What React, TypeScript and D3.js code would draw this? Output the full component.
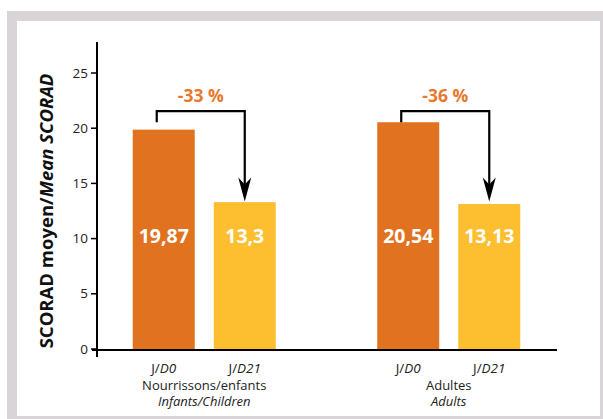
import React from "react";
import * as d3 from "d3";

// Mean SCORAD at day 0 and day 21, per population
const groups = ["Nourrissons/enfants", "Adultes"];
const groupsEn = ["Infants/Children", "Adults"];
const timepoints = ["D0", "D21"];
const d0Values = [19.87, 20.54];
const d21Values = [13.3, 13.13];
const valueLabels = [["19,87", "13,3"], ["20,54", "13,13"]];
const changeLabels = ["-33 %", "-36 %"];
const yTicks = [0, 5, 10, 15, 20, 25];

const W = 603;
const H = 419;
const ORANGE = "#e07220";
const YELLOW = "#fdbe30";
const LABEL_ORANGE = "#e8782c";
const FONT = "'Open Sans', 'DejaVu Sans', sans-serif";

export default function App() {
  const y = d3.scaleLinear().domain([0, 25]).range([349, 73]);
  const xGroup = d3.scaleBand<string>().domain(groups).range([82, 571]);
  const xInner = d3
    .scaleBand<string>()
    .domain(timepoints)
    .range([-71.5, 71.5])
    .paddingInner(0.235);
  const bw = xInner.bandwidth();
  const axisX = 97;
  const axisY = y(0) + 1;
  const bracketY = y(21.55);
  const stubY = y(20.55);
  const tipY = y(13.35);

  return (
    <svg
      width={W}
      height={H}
      style={{ position: "absolute", left: 0, top: 0 }}
      fontFamily={FONT}
    >
      <rect x={0} y={0} width={W} height={H} fill="#fff" />
      <rect x={7} y={11} width={W - 7} height={H - 11} fill="#d9d4d7" />
      <rect x={17} y={21} width={583} height={395} fill="#fff" />

      {/* bars */}
      {groups.map((g, gi) => {
        const cx = (xGroup(g) ?? 0) + xGroup.bandwidth() / 2;
        const vals = [d0Values[gi], d21Values[gi]];
        return (
          <g key={g}>
            {timepoints.map((t, ti) => {
              const x0 = cx + (xInner(t) ?? 0);
              return (
                <g key={t}>
                  <rect
                    x={x0}
                    y={y(vals[ti])}
                    width={bw}
                    height={y(0) - y(vals[ti])}
                    fill={ti === 0 ? ORANGE : YELLOW}
                  />
                  <text
                    x={x0 + bw / 2}
                    y={243}
                    textAnchor="middle"
                    fill="#fff"
                    fontWeight="bold"
                    fontSize={19.5}
                  >
                    {valueLabels[gi][ti]}
                  </text>
                  <text
                    x={x0 + bw / 2}
                    y={373}
                    textAnchor="middle"
                    fill="#222"
                    fontSize={13.5}
                  >
                    J/<tspan fontStyle="italic">{t}</tspan>
                  </text>
                </g>
              );
            })}
            <text x={cx} y={390} textAnchor="middle" fill="#222" fontSize={13}>
              {g}
            </text>
            <text
              x={cx}
              y={406}
              textAnchor="middle"
              fill="#222"
              fontSize={13}
              fontStyle="italic"
            >
              {groupsEn[gi]}
            </text>
            {/* change bracket from D0 to D21 */}
            {(() => {
              const xs = cx + (xInner("D0") ?? 0) + bw / 2 - 7;
              const xe = cx + (xInner("D21") ?? 0) + bw / 2;
              const headTop = tipY - 24;
              return (
                <g>
                  <path
                    d={`M${xs},${stubY} V${bracketY} H${xe} V${headTop + 8}`}
                    fill="none"
                    stroke="#000"
                    strokeWidth={2.2}
                  />
                  <path
                    d={`M${xe},${tipY} L${xe - 6.5},${headTop} L${xe},${headTop + 7} L${xe + 6.5},${headTop} Z`}
                    fill="#000"
                  />
                  <text
                    x={(xs + xe) / 2}
                    y={102}
                    textAnchor="middle"
                    fill={LABEL_ORANGE}
                    fontWeight="bold"
                    fontSize={17.5}
                  >
                    {changeLabels[gi]}
                  </text>
                </g>
              );
            })()}
          </g>
        );
      })}

      {/* axes */}
      <line x1={axisX} x2={axisX} y1={42} y2={357} stroke="#000" strokeWidth={2} />
      <line x1={92} x2={557} y1={axisY} y2={axisY} stroke="#000" strokeWidth={2} />
      {yTicks.map((t) => (
        <g key={t}>
          <line x1={91} x2={axisX} y1={y(t)} y2={y(t)} stroke="#000" strokeWidth={1.5} />
          <text
            x={88}
            y={y(t) + 4.5}
            textAnchor="end"
            fill="#222"
            fontSize={13.5}
          >
            {t}
          </text>
        </g>
      ))}

      <text
        transform={`translate(53,211) rotate(-90)`}
        textAnchor="middle"
        fontWeight="bold"
        fontSize={18.5}
        fill="#111"
      >
        SCORAD moyen/<tspan fontStyle="italic">Mean SCORAD</tspan>
      </text>
    </svg>
  );
}
